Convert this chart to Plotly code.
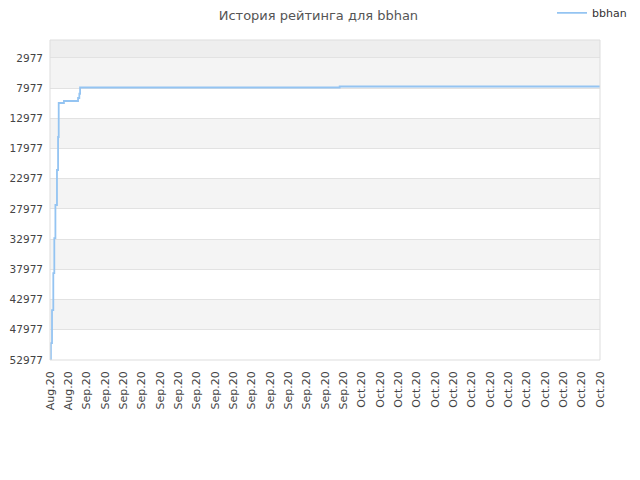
import plotly.graph_objects as go

# rating history (x in game index, 10 games per tick label)
games = [0, 0.5, 1.1, 1.8, 2.35, 2.95, 3.8, 4.4, 4.75, 7.6, 15.3, 16.0, 16.4, 158, 300]
ratings = [52977, 50173, 44708, 38581, 32785, 27320, 21524, 16059, 10429,
           10098, 9600, 8900, 7862, 7697, 7697]

tick_labels = ["Aug.20"] * 2 + ["Sep.20"] * 15 + ["Oct.20"] * 14
tick_pos = [i * 10 for i in range(len(tick_labels))]

y_ticks = [2977, 7977, 12977, 17977, 22977, 27977, 32977, 37977, 42977, 47977, 52977]

fig = go.Figure()
fig.add_trace(go.Scatter(
    x=games, y=ratings, name="bbhan", mode="lines",
    line=dict(color="#94c4f2", width=1.8, shape="hv"),
))

# alternating bands
shapes = [dict(type="rect", xref="paper", yref="y", x0=0, x1=1, y0=0, y1=2977,
               fillcolor="#eeeeee", line_width=0, layer="below")]
for lo in [2977, 12977, 22977, 32977, 42977]:
    shapes.append(dict(type="rect", xref="paper", yref="y", x0=0, x1=1,
                       y0=lo, y1=lo + 5000, fillcolor="#f4f4f4",
                       line_width=0, layer="below"))
shapes.append(dict(type="rect", xref="paper", yref="paper", x0=0, x1=1, y0=0, y1=1,
                   line=dict(color="#dddddd", width=1)))

fig.update_layout(
    width=640, height=480,
    margin=dict(l=42, r=48, t=32, b=128, autoexpand=False),
    paper_bgcolor="white", plot_bgcolor="white",
    font=dict(family="DejaVu Sans", size=11, color="#444"),
    title=dict(text="История рейтинга для bbhan", x=0.485, y=0.984,
               xanchor="center", yanchor="middle", xref="container", yref="container",
               font=dict(size=13, color="#555")),
    showlegend=True,
    legend=dict(x=0.85, y=0.99, xanchor="left", yanchor="middle",
                xref="container", yref="container", itemwidth=30,
                bgcolor="rgba(0,0,0,0)", font=dict(size=11, color="#333")),
    shapes=shapes,
    xaxis=dict(range=[0, 300], tickvals=tick_pos, ticktext=tick_labels,
               tickangle=-90, showgrid=False, zeroline=False, showline=False,
               ticks="", automargin=False, ticklabelstandoff=8),
    yaxis=dict(range=[52977, 0], tickvals=y_ticks, ticktext=[str(v) for v in y_ticks],
               showgrid=True, gridcolor="#e2e2e2", zeroline=False, showline=False,
               ticks="", automargin=False, ticklabelstandoff=6,
               tickfont=dict(size=10.5)),
)

fig.write_html("out.html")
